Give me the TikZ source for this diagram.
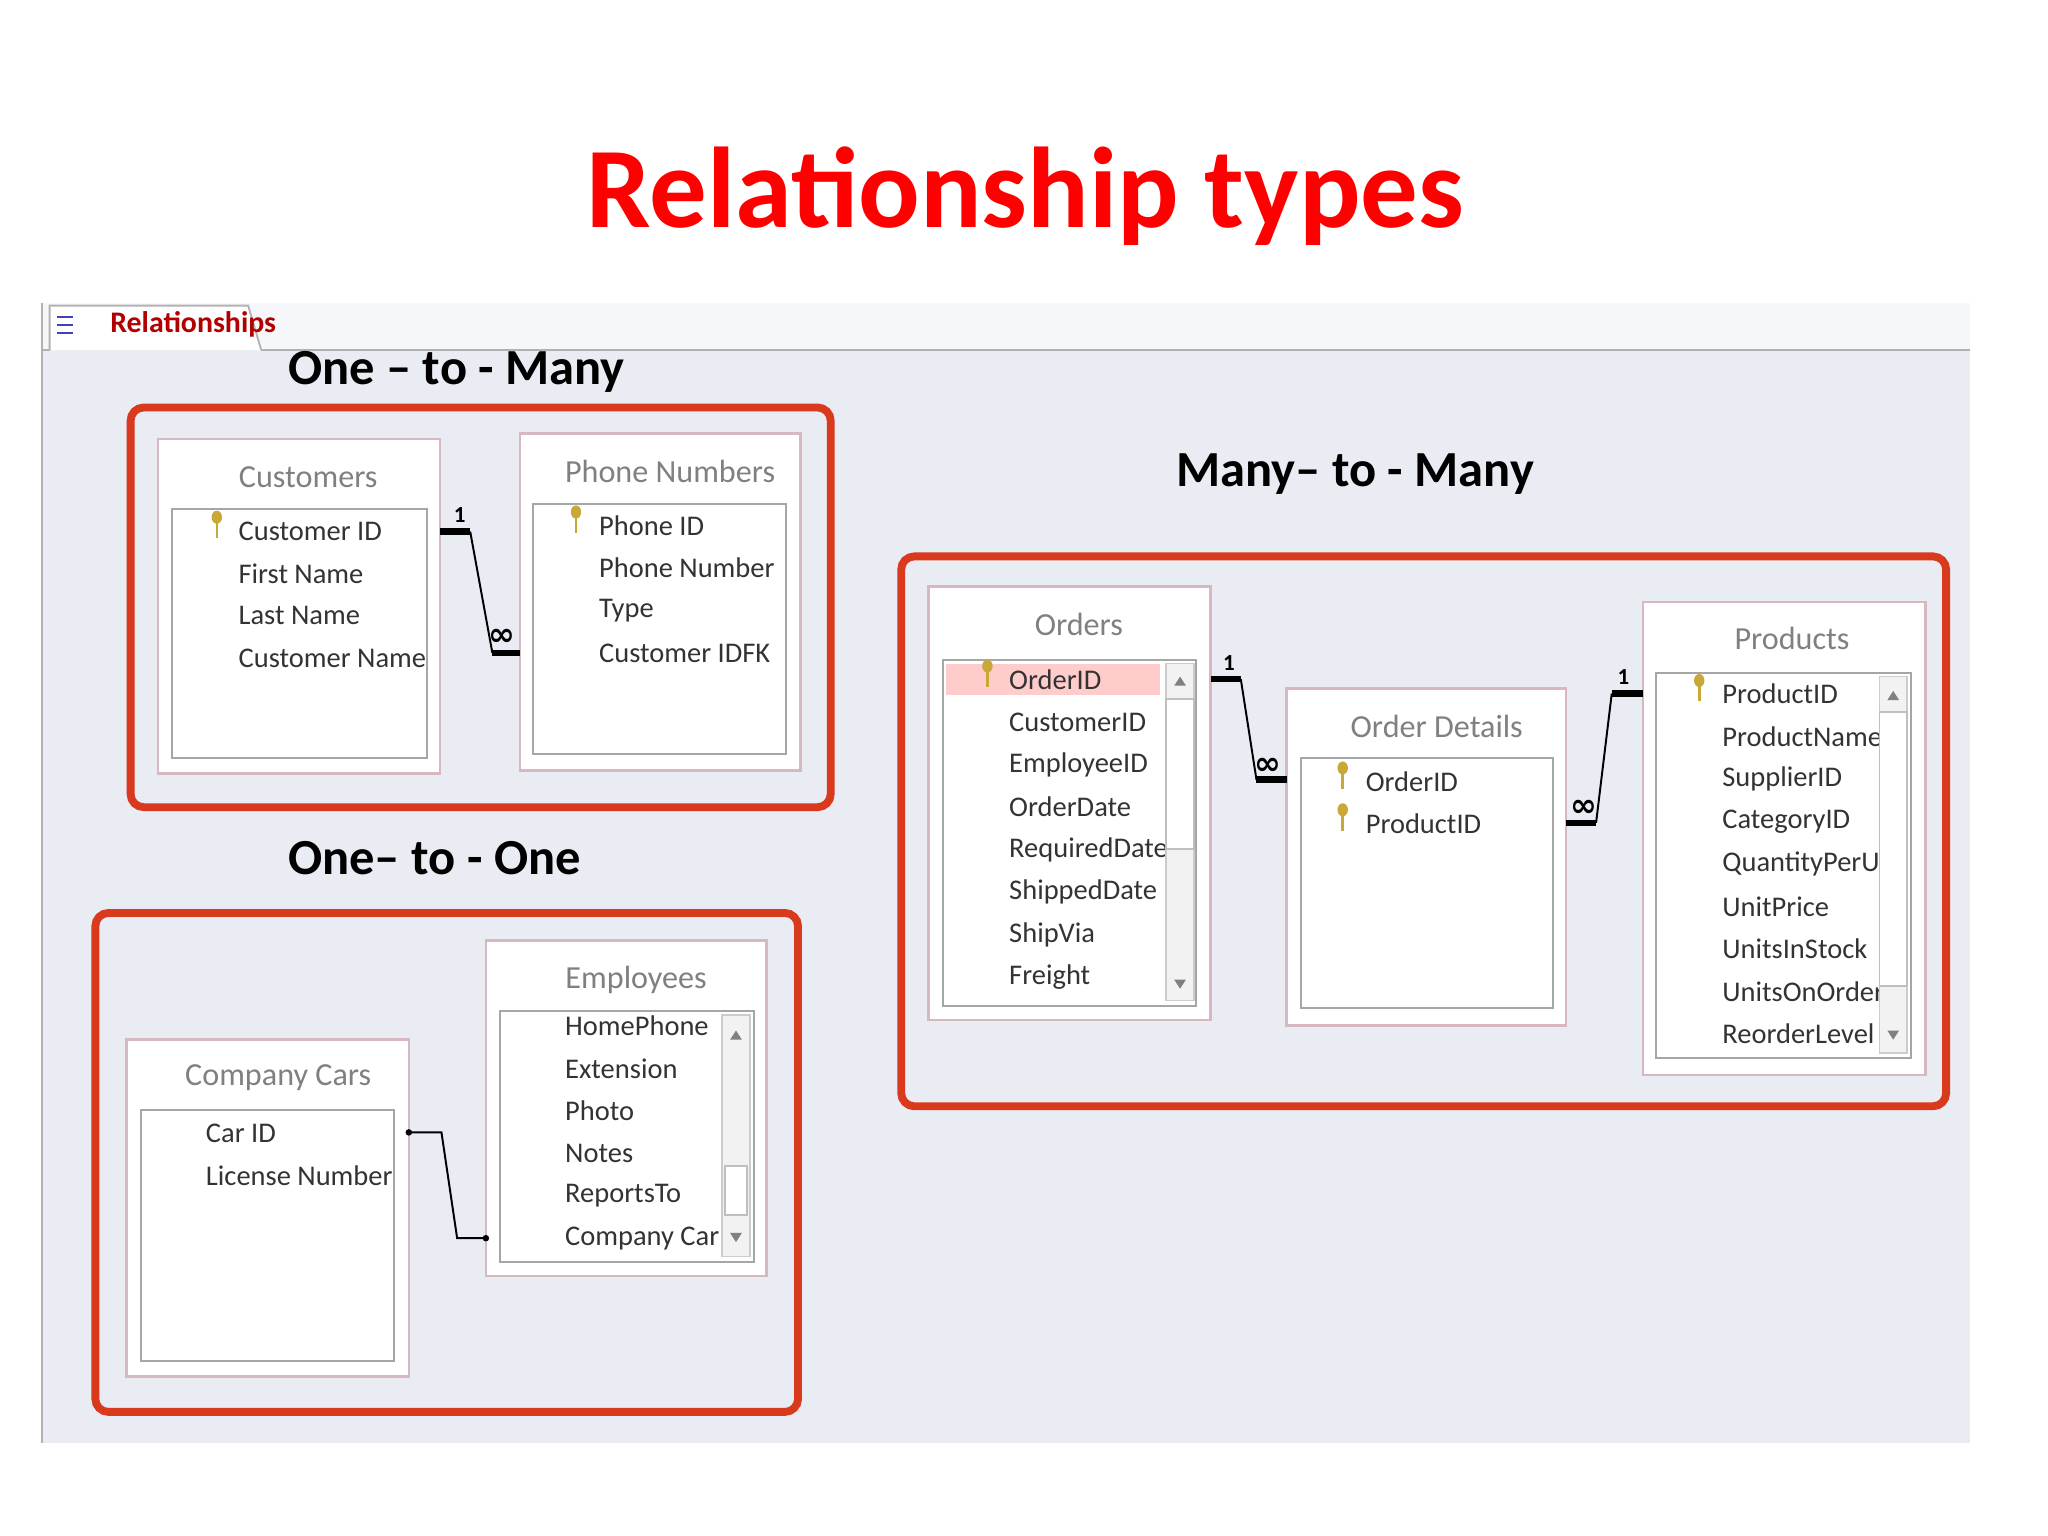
\documentclass[tikz,border=0pt]{standalone}
\usepackage{fontspec}
\setmainfont{Carlito}
\newfontfamily\dv{DejaVu Sans}
\definecolor{bgp}{HTML}{E9ECF3}
\definecolor{rbox}{HTML}{D9391C}
\definecolor{tfr}{HTML}{D8B8C0}
\definecolor{tgray}{HTML}{555555}
\definecolor{keyc}{HTML}{C8A838}
\begin{document}
\begin{tikzpicture}[x=0.01cm,y=-0.01cm,
  redbox/.style={draw=rbox,line width=0.06cm,rounded corners=0.1cm},
  tframe/.style={draw=tfr,fill=white,line width=0.02cm},
  tinner/.style={draw=gray!70,fill=white,line width=0.015cm},
  ttitle/.style={font=\fontsize{7pt}{8pt}\selectfont,text=gray},
  fld/.style={font=\fontsize{6.2pt}{7pt}\selectfont,text=black!80,anchor=west,inner sep=0},
  lbl/.style={font=\bfseries\fontsize{11pt}{12pt}\selectfont,anchor=west,inner sep=0},
  thick1/.style={line width=0.05cm},
  conn/.style={line width=0.015cm},
  mk/.style={font=\bfseries\fontsize{5pt}{5pt}\selectfont,inner sep=0},
  inf/.style={font=\dv\bfseries\fontsize{7pt}{7pt}\selectfont,inner sep=0}]
\useasboundingbox (0,0) rectangle (1568,1176);
\fill[white] (0,0) rectangle (1568,1176);
% panel
\fill[bgp] (32,232) rectangle (1508,1105);
\fill[white!60!bgp] (32,232) rectangle (1508,268);
\draw[gray!60] (32,268) -- (38,268) (200,268) -- (1508,268);
\draw[gray!60] (32,232) -- (32,1105);
\draw[gray!60,fill=white] (38,268) -- (38,234) -- (190,234) -- (200,268);
\node[font=\bfseries\fontsize{6.5pt}{7pt}\selectfont,text=red!70!black,anchor=west] (tab) at (72,248) {Relationships};
\draw[blue!50!gray] (44,243) -- (56,243) (44,249) -- (56,249) (44,255) -- (56,255);
% title
\node[text=red,font=\bfseries\fontsize{25pt}{28pt}\selectfont] (title) at (785,150) {Relationship types};
% labels
\node[lbl] (l1) at (220,285) {One – to - Many};
\node[lbl] (l2) at (900,363) {Many– to - Many};
\node[lbl] (l3) at (220,657) {One– to - One};
% red boxes
\draw[redbox] (100,312) rectangle (636,618);
\draw[redbox] (690,426) rectangle (1490,847);
\draw[redbox] (73,699) rectangle (611,1081);
% key icon
\newcommand{\keyic}[2]{\fill[keyc] (#1,#2-8) ellipse (4 and 5); \draw[keyc,line width=0.02cm] (#1,#2-4) -- (#1,#2+8);}
% Customers
\draw[tframe] (121,336) rectangle (337,592);
\node[ttitle] (cust) at (236,365) {Customers};
\draw[tinner] (132,390) rectangle (327,580);
\keyic{166}{404}
\foreach \t [count=\i] in {Customer ID,First Name,Last Name,Customer Name}
  \node[fld] at (182,374+32.5*\i) {\t};
% Phone Numbers
\draw[tframe] (398,332) rectangle (613,590);
\node[ttitle] (phone) at (513,361) {Phone Numbers};
\draw[tinner] (408,386) rectangle (602,577);
\keyic{441}{400}
\foreach \t [count=\i] in {Phone ID,Phone Number,Type,Customer IDFK}
  \node[fld] at (458,370+32.5*\i) {\t};
\coordinate (a1) at (337,407); \coordinate (a2) at (360,407);
\coordinate (a3) at (377,500); \coordinate (a4) at (398,500);
\draw[thick1] (a1) -- (a2); \draw[conn] (a2) -- (a3); \draw[thick1] (a3) -- (a4);
\node[mk] at (352,394) {1}; \node[inf] at (384,488) {∞};
% Orders
\draw[tframe] (711,449) rectangle (927,781);
\node[ttitle] (ord) at (826,478) {Orders};
\draw[tinner] (722,505) rectangle (916,770);
\fill[red!20] (724,508) rectangle (888,532);
\keyic{756}{518}
\foreach \t [count=\i] in {OrderID,CustomerID,EmployeeID,OrderDate,RequiredDate,ShippedDate,ShipVia,Freight}
  \node[fld] at (772,488+32.5*\i) {\t};
\draw[gray!40,fill=gray!10] (893,508) rectangle (914,766);
\draw[gray!50,fill=white] (893,535) rectangle (914,650);
\fill[gray] (899,525) -- (908,525) -- (903.5,518) -- cycle;
\fill[gray] (899,750) -- (908,750) -- (903.5,757) -- cycle;
% Order Details
\draw[tframe] (985,527) rectangle (1199,785);
\node[ttitle] (od) at (1100,556) {Order Details};
\draw[tinner] (996,580) rectangle (1189,772);
\keyic{1028}{596} \keyic{1028}{628}
\foreach \t [count=\i] in {OrderID,ProductID}
  \node[fld] at (1045,566+32.5*\i) {\t};
% Products
\draw[tframe] (1258,461) rectangle (1474,823);
\node[ttitle] (prod) at (1372,489) {Products};
\draw[tinner] (1268,515) rectangle (1463,810);
\keyic{1301}{529}
\foreach \t [count=\i] in {ProductID,ProductName,SupplierID,CategoryID,QuantityPerUni,UnitPrice,UnitsInStock,UnitsOnOrder,ReorderLevel}
  \node[fld] at (1318,499+32.5*\i) {\t};
\draw[gray!40,fill=gray!10] (1439,518) rectangle (1460,806);
\draw[gray!50,fill=white] (1439,545) rectangle (1460,755);
\fill[gray] (1445,536) -- (1454,536) -- (1449.5,529) -- cycle;
\fill[gray] (1445,789) -- (1454,789) -- (1449.5,796) -- cycle;
\coordinate (b1) at (927,520); \coordinate (b2) at (950,520);
\coordinate (b3) at (962,597); \coordinate (b4) at (985,597);
\draw[thick1] (b1) -- (b2); \draw[conn] (b2) -- (b3); \draw[thick1] (b3) -- (b4);
\node[mk] at (941,508) {1}; \node[inf] at (971,587) {∞};
\coordinate (c1) at (1199,630); \coordinate (c2) at (1222,630);
\coordinate (c3) at (1234,531); \coordinate (c4) at (1258,531);
\draw[thick1] (c1) -- (c2); \draw[conn] (c2) -- (c3); \draw[thick1] (c3) -- (c4);
\node[inf] at (1213,619) {∞}; \node[mk] at (1243,518) {1};
% Employees
\draw[tframe] (372,720) rectangle (587,977);
\node[ttitle] (emp) at (487,750) {Employees};
\draw[tinner] (383,774) rectangle (577,966);
\foreach \t [count=\i] in {HomePhone,Extension,Photo,Notes,ReportsTo,Company Car}
  \node[fld] at (432,753+32.5*\i) {\t};
\draw[gray!40,fill=gray!10] (553,777) rectangle (574,962);
\draw[gray!50,fill=white] (555,893) rectangle (572,930);
\fill[gray] (559,796) -- (568,796) -- (563.5,789) -- cycle;
\fill[gray] (559,944) -- (568,944) -- (563.5,951) -- cycle;
% Company Cars
\draw[tframe] (97,796) rectangle (313,1054);
\node[ttitle] (cc) at (213,825) {Company Cars};
\draw[tinner] (108,850) rectangle (302,1042);
\foreach \t [count=\i] in {Car ID,License Number}
  \node[fld] at (157,835+32.5*\i) {\t};
\coordinate (d1) at (313,867); \coordinate (d2) at (338,867);
\coordinate (d3) at (350,948); \coordinate (d4) at (372,948);
\draw[conn] (d1) -- (d2) -- (d3) -- (d4);
\fill (d1) circle (2.5); \fill (d4) circle (2.5);
\end{tikzpicture}
\end{document}
